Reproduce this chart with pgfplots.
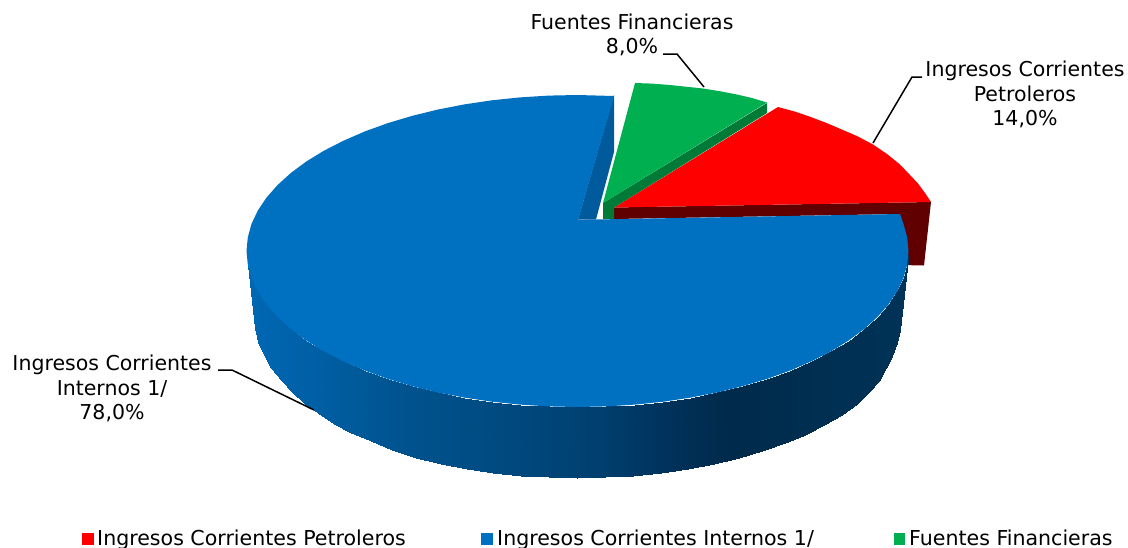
\documentclass[border=0pt]{standalone}
\usepackage{pgfplots}
\pgfplotsset{compat=1.18}
\usepackage{fontspec}
\setmainfont{DejaVu Sans}
\definecolor{pblue}{HTML}{0070C0}
\definecolor{pbluewall}{HTML}{005A9C}
\definecolor{pred}{HTML}{FF0000}
\definecolor{predwall}{HTML}{600000}
\definecolor{pgreen}{HTML}{00B050}
\definecolor{pgreenwall}{HTML}{007A37}
\begin{document}
\begin{tikzpicture}
\path[use as bounding box, clip] (0,0) rectangle (1128pt,547pt);
\begin{axis}[
  at={(0,0)}, anchor=south west,
  width=1128pt, height=547pt, scale only axis,
  xmin=0, xmax=1128, ymin=0, ymax=547, y dir=reverse,
  axis lines=none, clip=false,
  point meta min=247, point meta max=908,
  colormap={side}{
    rgb255(0mm)=(0,104,181)
    rgb255(67mm)=(0,95,165)
    rgb255(153mm)=(0,83,143)
    rgb255(253mm)=(0,74,128)
    rgb255(353mm)=(0,63,111)
    rgb255(433mm)=(0,48,88)
    rgb255(483mm)=(0,42,74)
    rgb255(553mm)=(0,46,80)
    rgb255(661mm)=(0,51,88)
  },
]
% red slice
\addplot[fill=predwall, draw=none] coordinates {(614,207.5) (931,202) (924,265.5) (900,265) (900,214) (614,219)} -- cycle;
\addplot[fill=pred, draw=none] coordinates {(614,207.5) (778,107) (795,111.6) (810,116.7) (827,123.2) (843,130) (858,136.5) (873,144.5) (887,154) (900,164.5) (910,175) (918,183.5) (925,193) (931,202)} -- cycle;
% green slice
\addplot[fill=pgreenwall, draw=none] coordinates {(603,203) (767,103) (767,113) (614,207.5) (614,219) (603,219)} -- cycle;
\addplot[fill=pgreen, draw=none] coordinates {(603,203) (635,83) (652,83.6) (670,85) (687,86.8) (703,88.5) (720,91.2) (737,94.5) (752,98) (767,102.5)} -- cycle;
% blue cut wall
\addplot[fill=pbluewall, draw=none] coordinates {(614,95) (614,152) (596,219.5) (578,219.5)} -- cycle;
% blue side
\addplot[surf, shader=interp, mesh/rows=2, point meta=x] table[row sep=crcr] {
x y\\
246.5 251\\ 247.8 264.6\\ 251.5 278.1\\ 257.8 291.4\\ 266.5 304.4\\ 277.5 316.9\\ 290.8 329\\ 306.3 340.5\\ 323.9 351.3\\ 343.5 361.3\\ 364.7 370.5\\ 387.6 378.8\\ 412 386.1\\ 437.6 392.4\\ 464.3 397.6\\ 491.8 401.7\\ 520 404.6\\ 548.6 406.4\\ 577.5 407\\ 606.4 406.4\\ 635 404.6\\ 663.2 401.7\\ 690.7 397.6\\ 717.4 392.4\\ 743 386.1\\ 767.4 378.8\\ 790.3 370.5\\ 811.5 361.3\\ 831.1 351.3\\ 848.7 340.5\\ 864.2 329\\ 877.5 316.9\\ 888.5 304.4\\ 897.2 291.4\\ 903.5 278.1\\ 907.2 264.6\\ 908.5 251\\
255 328\\ 258 342\\ 264 355\\ 271 368\\ 281 380\\ 292 392\\ 305 404\\ 318 413\\ 334 423.5\\ 351 433\\ 371 441\\ 392 450\\ 415.5 458.2\\ 440.5 464.1\\ 466.5 469.1\\ 493.4 473\\ 520.9 475.8\\ 548.8 477.4\\ 577 478\\ 605.2 477.4\\ 633.1 475.8\\ 660.6 473\\ 687.5 469.1\\ 713.5 464.1\\ 738.5 458.2\\ 762.3 451.2\\ 784.6 443.4\\ 805.4 434.7\\ 824.4 425.1\\ 841.6 414.9\\ 856.7 404\\ 868.5 391.5\\ 878.5 380.5\\ 886 368\\ 892 356\\ 897 343\\ 899.5 330\\
};
% blue top
\addplot[fill=pblue, draw=none] coordinates {
(578,220) (614,96) (577.5,95) (548.6,95.6) (520,97.4) (491.8,100.3) (464.3,104.4) (437.6,109.6) (412,115.9) (387.6,123.2) (364.7,131.5) (343.5,140.7) (323.9,150.7) (306.3,161.5) (290.8,173) (277.5,185.1) (266.5,197.6) (257.8,210.6) (251.5,223.9) (247.8,237.4) (246.5,251)
(247.8,264.6) (251.5,278.1) (257.8,291.4) (266.5,304.4) (277.5,316.9) (290.8,329) (306.3,340.5) (323.9,351.3) (343.5,361.3) (364.7,370.5) (387.6,378.8) (412,386.1) (437.6,392.4) (464.3,397.6) (491.8,401.7) (520,404.6) (548.6,406.4) (577.5,407)
(606.4,406.4) (635,404.6) (663.2,401.7) (690.7,397.6) (717.4,392.4) (743,386.1) (767.4,378.8) (790.3,370.5) (811.5,361.3) (831.1,351.3) (848.7,340.5) (864.2,329) (877.5,316.9) (888.5,304.4) (897.2,291.4) (903.5,278.1) (907.2,264.6) (908.5,251) (907.2,237.4) (903.5,223.9) (900,214) (596,219.5)
} -- cycle;
% leader lines
\addplot[black, line width=1.5pt] coordinates {(663,54) (677,54) (704,87)};
\addplot[black, line width=1.5pt] coordinates {(873,143) (912,77) (922,77)};
\addplot[black, line width=1.5pt] coordinates {(218,370) (232,370) (314,410)};
% legend keys
\addplot[fill=pred, draw=none] coordinates {(82,533) (94,533) (94,545) (82,545)} -- cycle;
\addplot[fill=pblue, draw=none] coordinates {(481,533) (493,533) (493,545) (481,545)} -- cycle;
\addplot[fill=pgreen, draw=none] coordinates {(894,533) (905,533) (905,545) (894,545)} -- cycle;
% labels
\node[align=center, font=\fontsize{20.5}{24.5}\selectfont, text=black] at (axis cs:632,34.7) {Fuentes Financieras\\8,0\%};
\node[align=center, font=\fontsize{20.5}{24.5}\selectfont, text=black] at (axis cs:1025,94.7) {Ingresos Corrientes\\Petroleros\\14,0\%};
\node[align=center, font=\fontsize{20.5}{24.5}\selectfont, text=black] at (axis cs:112,388.7) {Ingresos Corrientes\\Internos 1/\\78,0\%};
\node[anchor=base west, inner sep=0pt, font=\fontsize{20.55}{24}\selectfont, text=black] at (axis cs:97,545) {Ingresos Corrientes Petroleros};
\node[anchor=base west, inner sep=0pt, font=\fontsize{20.55}{24}\selectfont, text=black] at (axis cs:497,545) {Ingresos Corrientes Internos 1/};
\node[anchor=base west, inner sep=0pt, font=\fontsize{20.55}{24}\selectfont, text=black] at (axis cs:909,545) {Fuentes Financieras};
\end{axis}
\end{tikzpicture}
\end{document}
